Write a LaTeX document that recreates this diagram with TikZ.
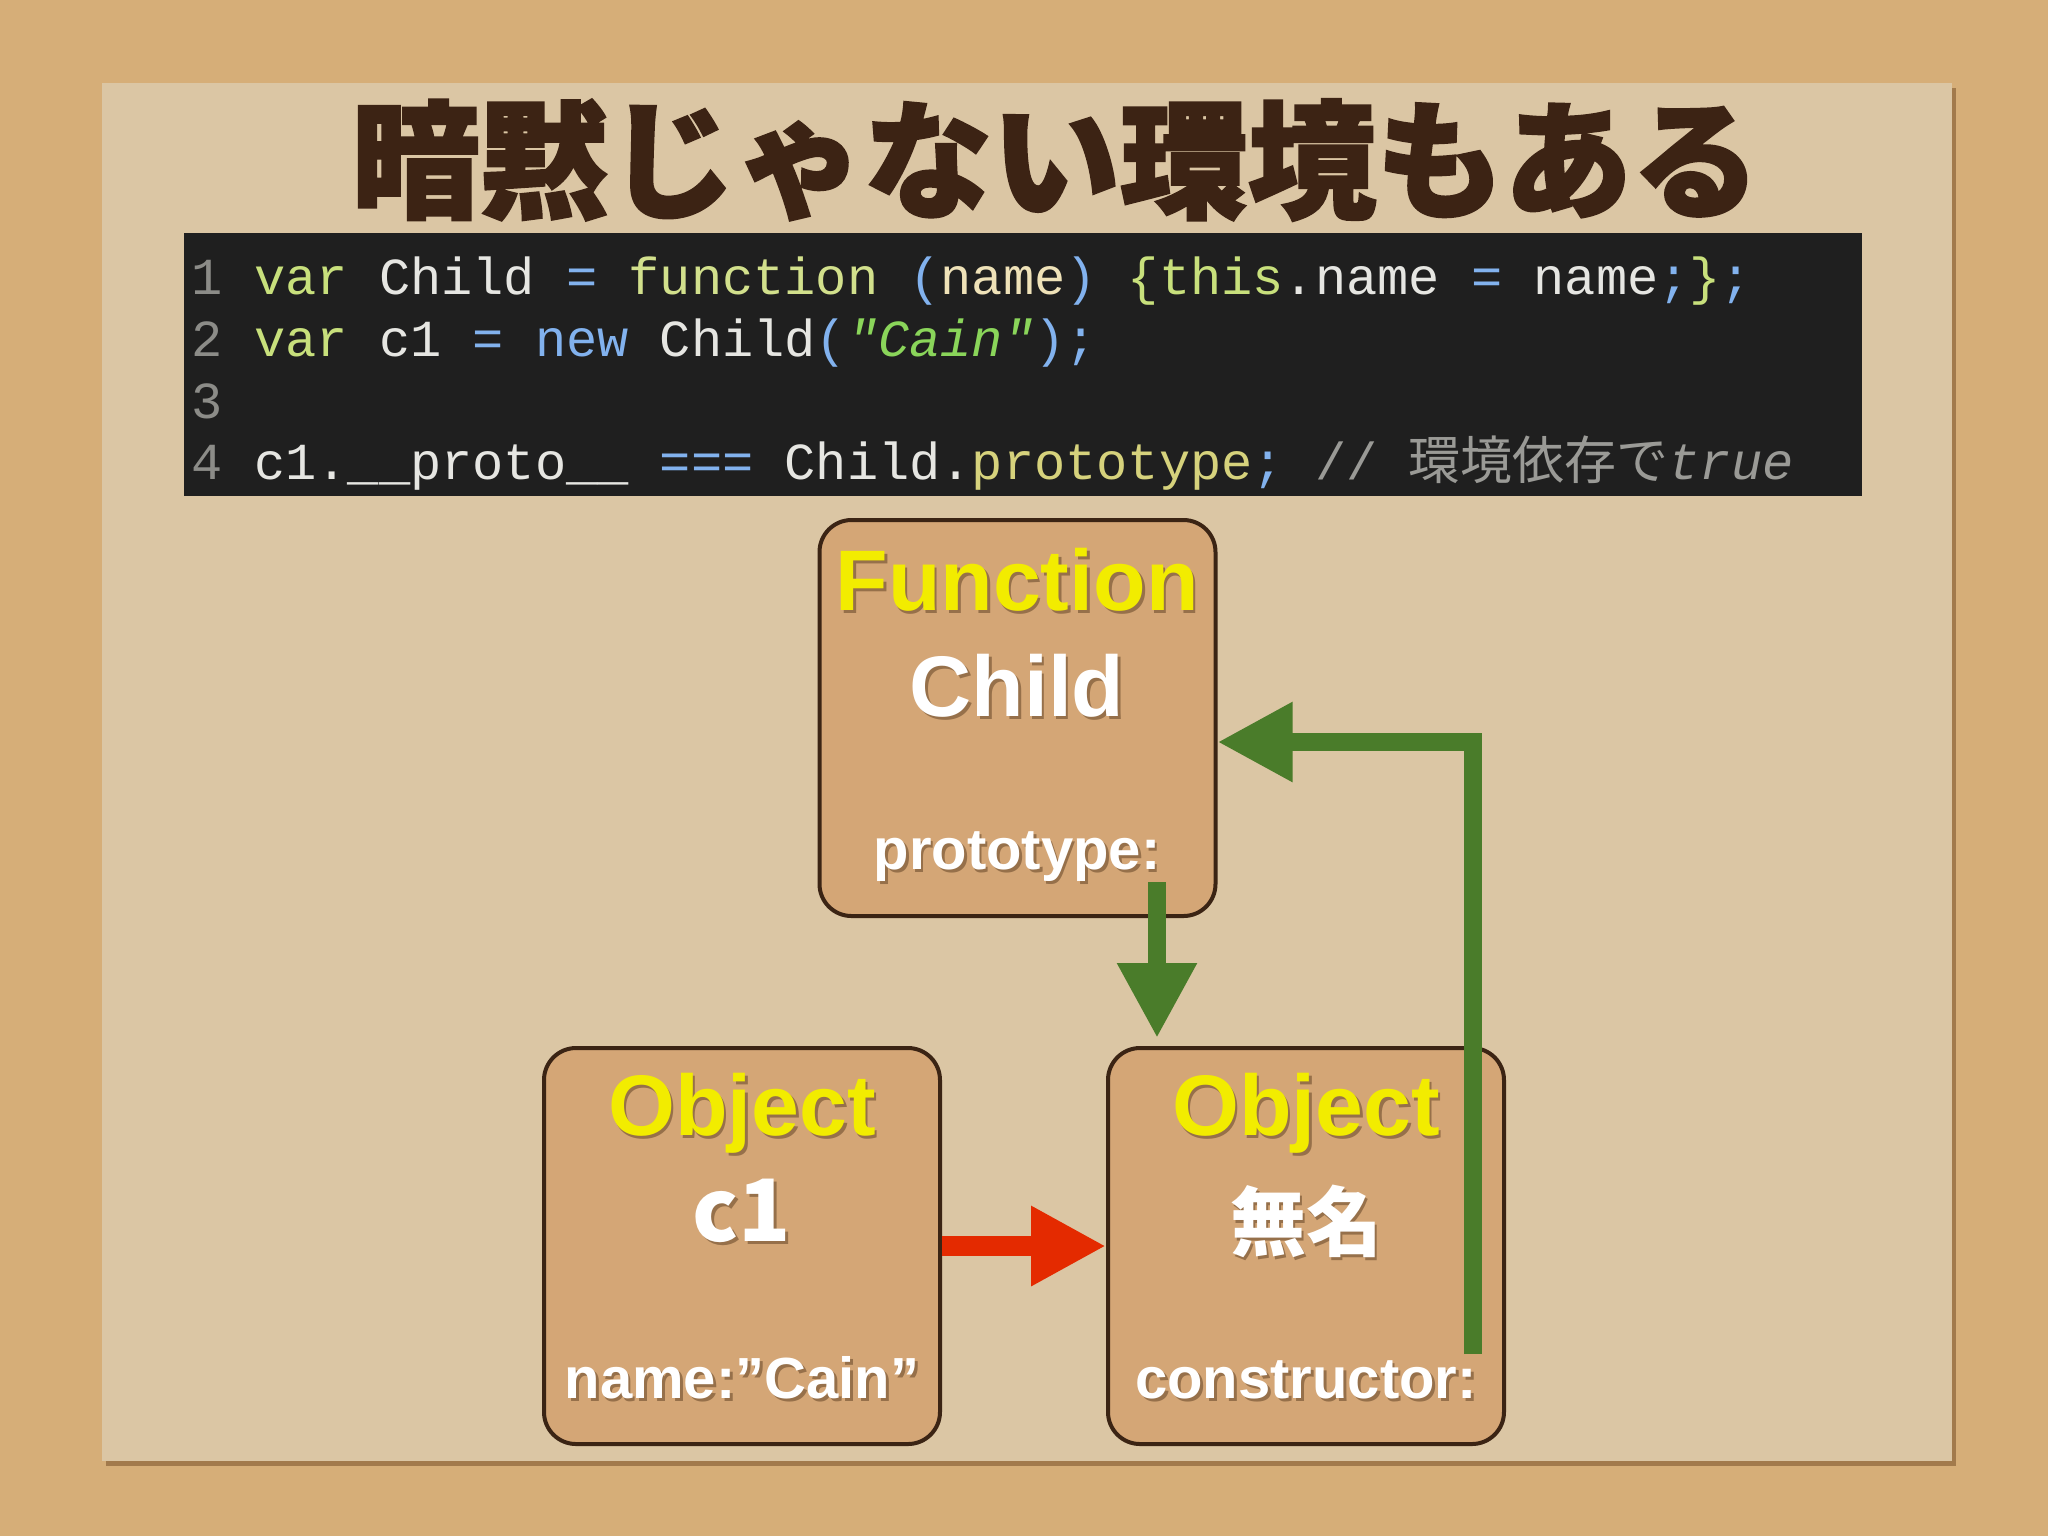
\documentclass[tikz,border=0pt]{standalone}
\usepackage{fontspec}
\setmainfont{Liberation Sans}
\newfontfamily\codefont{Liberation Mono}
\newfontfamily\cjk{Noto Sans CJK JP}
\newfontfamily\cjkheavy{Noto Sans CJK JP}[BoldFeatures={FakeBold=2}]
\usetikzlibrary{arrows.meta}
\definecolor{cork}{HTML}{D6AE78}
\definecolor{paper}{HTML}{DBC6A4}
\definecolor{papershadow}{HTML}{A27A4C}
\definecolor{codebg}{HTML}{1F1F1F}
\definecolor{lnum}{HTML}{8C8C88}
\definecolor{kw}{HTML}{C8E07C}
\definecolor{fn}{HTML}{D2E08C}
\definecolor{wt}{HTML}{E6E6E2}
\definecolor{op}{HTML}{82B2EE}
\definecolor{arg}{HTML}{EFE2B8}
\definecolor{str}{HTML}{8AD55A}
\definecolor{prop}{HTML}{D6D27C}
\definecolor{cmt}{HTML}{9A9A96}
\definecolor{titlebrown}{HTML}{3C2314}
\definecolor{boxfill}{HTML}{D4A676}
\definecolor{boxline}{HTML}{3B2414}
\definecolor{hdyellow}{HTML}{F2EC00}
\definecolor{arrowgreen}{HTML}{4A7C2A}
\definecolor{arrowred}{HTML}{E42A00}
\definecolor{txtshadow}{HTML}{96704A}
\newcommand\shd[1]{\makebox[0pt][l]{\raisebox{-0.9pt}{\hspace*{0.7pt}\textcolor{txtshadow}{#1}}}#1}
\begin{document}
\begin{tikzpicture}[x=0.25pt,y=-0.25pt,
  codeline/.style={anchor=base west,inner sep=0pt,font=\codefont\fontsize{13}{13}\selectfont},
  objbox/.style={draw=boxline,line width=1pt,fill=boxfill,rounded corners=8pt,
    minimum width=99pt,minimum height=99pt,inner sep=0pt},
  headtext/.style={anchor=base,inner sep=0pt,text=hdyellow,font=\bfseries\fontsize{21.5}{21.5}\selectfont},
  nametext/.style={anchor=base,inner sep=0pt,text=white,font=\bfseries\fontsize{21.5}{21.5}\selectfont},
  proptext/.style={anchor=base,inner sep=0pt,text=white,font=\bfseries\fontsize{14.5}{14.5}\selectfont},
  garrow/.style={draw=arrowgreen,line width=4.5pt,line join=miter,
    -{Triangle[length=18.75pt,width=18.75pt]}},
  rarrow/.style={draw=arrowred,line width=5pt,
    -{Triangle[length=18.75pt,width=18.75pt]}}]
\useasboundingbox (0,0) rectangle (2048,1536);
% background
\fill[cork] (0,0) rectangle (2048,1536);
\fill[papershadow] (106,88) rectangle (1956,1466);
\fill[paper] (102,83) rectangle (1952,1461);
% title
\node[inner sep=0pt,text=titlebrown,font=\cjkheavy\bfseries\fontsize{32}{32}\selectfont] (title) at (1056,160) {暗黙じゃない環境もある};
% code block
\fill[codebg] (184,233) rectangle (1862,496);
\node[codeline] (l1) at (191,294) {{\color{lnum}1} {\color{kw}var} {\color{wt}Child} {\color{op}=} {\color{fn}function} {\color{op}(}{\color{arg}name}{\color{op})} {\color{kw}\{this}{\color{wt}.name} {\color{op}=} {\color{wt}name}{\color{op};}{\color{kw}\}}{\color{op};}};
\node[codeline] (l2) at (191,356) {{\color{lnum}2} {\color{kw}var} {\color{wt}c1} {\color{op}=} {\color{op}new} {\color{wt}Child}{\color{op}(}{\color{str}\itshape "Cain"}{\color{op});}};
\node[codeline] (l3) at (191,418) {{\color{lnum}3}};
\node[codeline] (l4) at (191,479) {{\color{lnum}4} {\color{wt}c1.\_\_proto\_\_} {\color{op}===} {\color{wt}Child.}{\color{prop}prototype}{\color{op};} {\color{cmt}// {\cjk 環境依存で}\itshape true}};
% boxes
\node[objbox] (func) at (1017.5,718) {};
\node[objbox] (c1box) at (742,1246) {};
\node[objbox] (anon) at (1306,1246) {};
% box texts
\node[headtext] (funchd) at (1017,610) {\shd{Function}};
\node[nametext] (funcname) at (1017,716) {\shd{Child}};
\node[proptext] (funcprop) at (1017,869) {\shd{prototype:}};
\node[headtext] (c1hd) at (742,1135) {\shd{Object}};
\node[nametext,font=\cjk\bfseries\fontsize{21.5}{21.5}\selectfont] (c1name) at (742,1241) {\shd{c1}};
\node[proptext] (c1prop) at (742,1398) {\shd{name:”Cain”}};
\node[headtext] (anonhd) at (1306,1135) {\shd{Object}};
\node[nametext,font=\cjk\bfseries\fontsize{19}{19}\selectfont] (anonname) at (1306,1250) {\shd{無名}};
\node[proptext] (anonprop) at (1306,1398) {\shd{constructor:}};
% arrows
\coordinate (pstart) at (1157,882);
\draw[garrow] (pstart) -- ([yshift=2pt]pstart |- anon.north);
\coordinate (cstart) at (1473,1354);
\coordinate (cturn) at (1473,742);
\draw[garrow] (cstart) -- (cturn) -- (cturn -| func.east);
\draw[rarrow] (c1box.east) -- (anon.west);
\end{tikzpicture}
\end{document}
